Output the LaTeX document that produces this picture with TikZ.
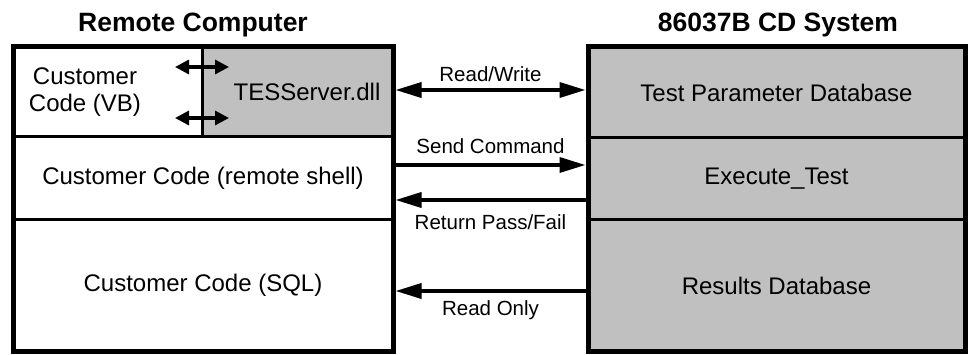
\documentclass[tikz,border=0pt]{standalone}
\usepackage{fontspec}
\setmainfont{Liberation Sans}
\usepackage{xcolor}
\usetikzlibrary{positioning, calc, arrows.meta}
\definecolor{boxgray}{RGB}{192,192,192}

\begin{document}
\begin{tikzpicture}[x=1pt, y=-1pt,
    cell/.style={draw, line width=3pt, inner sep=0pt, outer sep=0pt},
    graycell/.style={cell, fill=boxgray},
    frame/.style={line width=5pt},
    body/.style={font=\fontsize{24}{27}\selectfont},
    lbl/.style={font=\fontsize{20.5}{24}\selectfont, inner sep=0pt},
    title/.style={font=\bfseries\fontsize{26.5}{30}\selectfont},
    link/.style={line width=3.5pt, >={Triangle[length=26pt,width=15pt]}, shorten <=2.5pt, shorten >=2.5pt},
    minilink/.style={line width=3.2pt, >={Triangle[length=14pt,width=14pt]}}
]
    \useasboundingbox (0,0) rectangle (969,355);

    % --- LEFT: Remote Computer ---
    \node[title] (remote) at (193,25) {Remote Computer};
    \node[cell, minimum width=189pt, minimum height=90pt] (vb) at (107.5,92) {};
    \node[graycell, minimum width=191pt, minimum height=90pt] (tes) at (297.5,92) {};
    \node[cell, body, minimum width=380pt, minimum height=83pt] (shell) at (203,178.5) {Customer Code (remote shell)};
    \node[cell, body, minimum width=380pt, minimum height=131pt] (sql) at (203,285.5) {Customer Code (SQL)};
    \node[body, align=center] (vbtext) at (85,92) {Customer\\Code (VB)};
    \node[body] (testext) at (307,92) {TESServer.dll};
    \draw[frame] (vb.north west) rectangle (sql.south east);

    % VB <-> dll
    \draw[minilink, <->] ([xshift=-27pt,yshift=25pt]vb.east) -- ([xshift=27pt,yshift=25pt]tes.west);
    \draw[minilink, <->] ([xshift=-27pt,yshift=-26pt]vb.east) -- ([xshift=27pt,yshift=-26pt]tes.west);

    % --- RIGHT: 86037B CD System ---
    \node[title] (cdsys) at (778,25) {86037B CD System};
    \node[graycell, body, minimum width=377pt, minimum height=91pt] (tpd) at (776.5,92.5) {Test Parameter Database};
    \node[graycell, body, minimum width=377pt, minimum height=82pt] (exe) at (776.5,179) {Execute\_Test};
    \node[graycell, body, minimum width=377pt, minimum height=131pt] (res) at (776.5,285.5) {Results Database};
    \draw[frame] (tpd.north west) rectangle (res.south east);

    % Links
    \draw[link, <->] ([yshift=2pt]tes.east) -- ([yshift=2pt]tes.east -| tpd.west)
        node[lbl, midway, above=7pt] {Read/Write};
    \draw[link, ->] ([yshift=13.5pt]shell.east) -- ([yshift=13.5pt]shell.east -| exe.west)
        node[lbl, midway, above=10pt] {Send Command};
    \draw[link, <-] ([yshift=-21.5pt]shell.east) -- ([yshift=-21.5pt]shell.east -| exe.west)
        node[lbl, midway, below=13pt] {Return Pass/Fail};
    \draw[link, <-] ([yshift=-5.5pt]sql.east) -- ([yshift=-5.5pt]sql.east -| res.west)
        node[lbl, midway, below=8pt] {Read Only};

\end{tikzpicture}
\end{document}
